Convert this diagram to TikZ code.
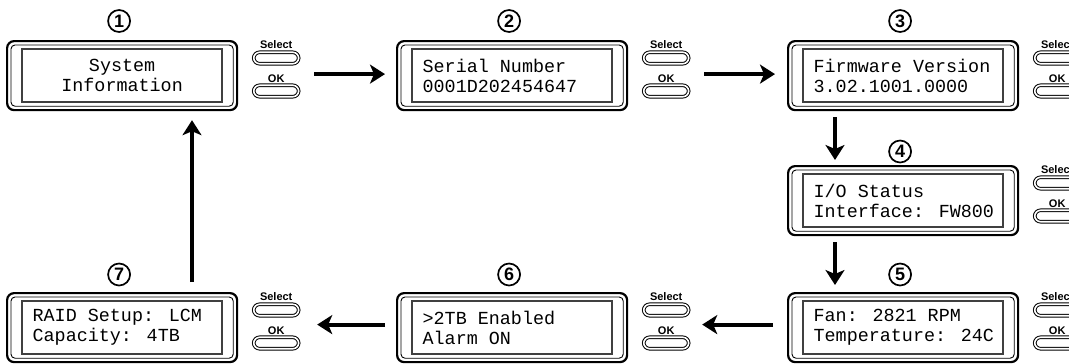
\documentclass[tikz,border=0pt]{standalone}
\usepackage{fontspec}
\setmainfont{Liberation Sans}
\newfontfamily\lcdfont{Liberation Mono}
\usetikzlibrary{calc,arrows.meta}
\tikzset{
  frameout/.style={draw, line width=2.2bp, rounded corners=7bp, minimum width=230bp, minimum height=69bp, inner sep=0pt},
  framein/.style={draw, line width=0.9bp, rounded corners=4bp},
  lcdscreen/.style={draw=black!75, line width=1.3bp, minimum width=200bp, minimum height=53bp, inner sep=0pt},
  numcirc/.style={circle, draw, line width=1.7bp, minimum size=22bp, inner sep=0pt, font=\fontsize{18bp}{18bp}\selectfont\bfseries},
  btnlabel/.style={inner sep=0pt, font=\fontsize{11bp}{11bp}\selectfont\bfseries},
  btn/.style={draw, line width=1bp, double=white, double distance=1.6bp, rounded corners=6bp, minimum width=45bp, minimum height=11.5bp, inner sep=0pt},
  lcdtext/.style={inner sep=0pt, align=left, font=\lcdfont\fontsize{18.4bp}{20bp}\selectfont},
  flow/.style={line width=4.2bp, -{Stealth[length=15bp,width=19bp,inset=4bp]}}
}
\newcommand\lcdpanel[5]{%
  \node[frameout, anchor=north west] (#1) at (#2,#3) {};
  \draw[framein] ($(#1.north west)+(5,5)$) rectangle ($(#1.south east)+(-5,-5)$);
  \node[lcdscreen] (#1s) at (#1.center) {};
  \node[numcirc] (#1n) at ($(#1.north)+(-3,#5)$) {#4};
  \node[btnlabel] (#1sl) at ($(#1.north east)+(38,5)$) {Select};
  \node[btn] (#1sb) at ($(#1.north east)+(38,18)$) {};
  \node[btnlabel] (#1ol) at ($(#1.north east)+(38,39)$) {OK};
  \node[btn] (#1ob) at ($(#1.north east)+(38,51)$) {};
}
\begin{document}
\begin{tikzpicture}[x=1bp, y=-1bp]
\useasboundingbox (0,0) rectangle (1069,363);
\lcdpanel{pa}{6}{40}{1}{-19}
\lcdpanel{pb}{396}{40}{2}{-19}
\lcdpanel{pc}{787}{40}{3}{-19}
\lcdpanel{pd}{787}{165}{4}{-13.5}
\lcdpanel{pe}{787}{292}{5}{-17.5}
\lcdpanel{pf}{396}{292}{6}{-17.5}
\lcdpanel{pg}{6}{292}{7}{-17.5}
\node[lcdtext, align=center] (ta) at (pas.center) {System\\Information};
\node[lcdtext, anchor=west] (tb) at ($(pbs.west)+(11,0)$) {Serial Number\\0001D202454647};
\node[lcdtext, anchor=west] (tc) at ($(pcs.west)+(11,0)$) {Firmware Version\\3.02.1001.0000};
\node[lcdtext, anchor=west] (td) at ($(pds.west)+(11,0)$) {I/O Status\\Interface: FW800};
\node[lcdtext, anchor=west] (te) at ($(pes.west)+(11,0)$) {Fan: 2821 RPM\\Temperature: 24C};
\node[lcdtext, anchor=west] (tf) at ($(pfs.west)+(11,0)$) {>2TB Enabled\\Alarm ON};
\node[lcdtext, anchor=west] (tg) at ($(pgs.west)+(11,0)$) {RAID Setup: LCM\\Capacity: 4TB};
\draw[flow] ($(paob.east |- pa.center)+(15,-1.5)$) -- ($(pb.west)+(-11,-1.5)$);
\draw[flow] ($(pbob.east |- pb.center)+(15,-1.5)$) -- ($(pc.west)+(-12,-1.5)$);
\draw[flow] ($(pc.south west)+(48,6)$) -- ($(pd.north west)+(48,-5)$);
\draw[flow] ($(pd.south west)+(48,6)$) -- ($(pe.north west)+(48,-7)$);
\draw[flow] ($(pe.west)+(-14,-3)$) -- ($(pfob.east |- pf.center)+(13,-3)$);
\draw[flow] ($(pf.west)+(-11,-3)$) -- ($(pgob.east |- pg.center)+(18,-3)$);
\draw[flow] ($(pg.north west)+(186,-10)$) -- ($(pa.south west)+(186,9)$);
\end{tikzpicture}
\end{document}
